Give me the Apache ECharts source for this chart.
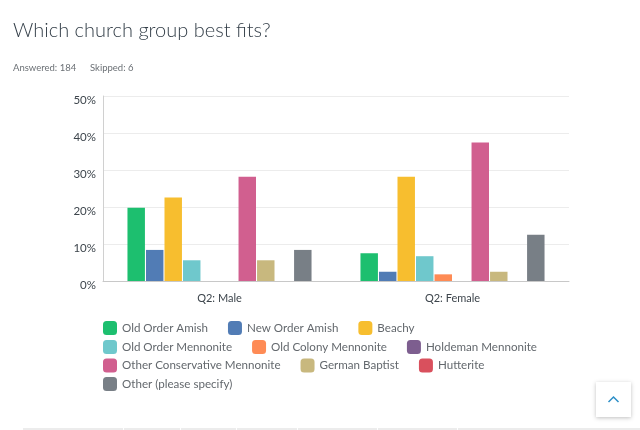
<!DOCTYPE html>
<html lang="en">
<head>
  <meta charset="UTF-8">
  <title>Which church group best fits?</title>
  <script src="https://cdn.jsdelivr.net/npm/echarts@6/dist/echarts.min.js"></script>
  <style>
    html, body { margin: 0; padding: 0; background: #fff; }
    #chart { width: 640px; height: 430px; }
  </style>
</head>
<body>
  <div id="chart"></div>
  <script>
    // categories on the x axis
    const groups = ['Q2: Male', 'Q2: Female'];

    // answer options (series)
    const churches = [
      'Old Order Amish', 'New Order Amish', 'Beachy',
      'Old Order Mennonite', 'Old Colony Mennonite', 'Holdeman Mennonite',
      'Other Conservative Mennonite', 'German Baptist', 'Hutterite',
      'Other (please specify)'
    ];

    // percent per option, [male, female]
    const oldOrderAmish = [19.8, 7.5];
    const newOrderAmish = [8.4, 2.5];
    const beachy = [22.6, 28.2];
    const oldOrderMennonite = [5.6, 6.7];
    const oldColonyMennonite = [0, 1.8];
    const holdemanMennonite = [0, 0];
    const otherConservative = [28.2, 37.4];
    const germanBaptist = [5.6, 2.5];
    const hutterite = [0, 0];
    const otherSpecify = [8.4, 12.5];

    const yTicks = [0, 10, 20, 30, 40, 50];

    const values = [
      oldOrderAmish, newOrderAmish, beachy, oldOrderMennonite, oldColonyMennonite,
      holdemanMennonite, otherConservative, germanBaptist, hutterite, otherSpecify
    ];
    const colors = [
      '#1DBF6F', '#517CB5', '#F7BE2F', '#6FC8CC', '#FE8B55',
      '#7D5E8F', '#D15F8F', '#C8B87E', '#D9505D', '#787F86'
    ];

    // legend wraps like the original: 3, 3, 3, 1
    const legendRows = [churches.slice(0, 3), churches.slice(3, 6), churches.slice(6, 9), churches.slice(9)];
    const legendTops = [321, 340, 358.5, 377];

    // white seams of the table header peeking in at the bottom
    const seams = [123, 180, 236, 297, 377, 457];

    const font = 'Lato, "Open Sans", sans-serif';

    const chart = echarts.init(document.getElementById('chart'));
    chart.setOption({
      animation: false,
      color: colors,
      title: [
        {
          text: 'Which church group best fits?',
          left: 13, top: 21, padding: 0,
          textStyle: { fontFamily: font, fontSize: 20, fontWeight: 300, color: '#333e48' }
        },
        {
          text: 'Answered: 184',
          left: 13, top: 63, padding: 0,
          textStyle: { fontFamily: font, fontSize: 9.5, fontWeight: 'normal', color: '#6b7075' }
        },
        {
          text: 'Skipped: 6',
          left: 90, top: 63, padding: 0,
          textStyle: { fontFamily: font, fontSize: 9.5, fontWeight: 'normal', color: '#6b7075' }
        }
      ],
      legend: legendRows.map((row, i) => ({
        data: row,
        left: 103,
        top: legendTops[i],
        padding: 0,
        itemWidth: 14,
        itemHeight: 14,
        itemGap: 20,
        icon: 'roundRect',
        selectedMode: false,
        textStyle: { fontFamily: font, fontSize: 11.6, color: '#63686d' }
      })),
      grid: { left: 103, right: 71, top: 96, bottom: 149 },
      xAxis: {
        type: 'category',
        data: groups,
        axisTick: { show: false },
        axisLine: { lineStyle: { color: '#c8c8c8', width: 1 } },
        axisLabel: { margin: 12, fontFamily: font, fontSize: 11, color: '#3d454c' }
      },
      yAxis: {
        type: 'value',
        min: yTicks[0],
        max: yTicks[yTicks.length - 1],
        interval: 10,
        axisLine: { show: true, lineStyle: { color: '#d0d0d0' } },
        axisTick: { show: false },
        splitLine: { lineStyle: { color: '#ececec' } },
        axisLabel: {
          formatter: '{value}%',
          margin: 7,
          verticalAlign: 'top',
          lineHeight: 9,
          fontFamily: font, fontSize: 11.5, color: '#3d454c'
        }
      },
      series: churches.map((name, i) => ({
        name: name,
        type: 'bar',
        data: values[i],
        barCategoryGap: '21%',
        barGap: '6%',
        itemStyle: { color: colors[i] }
      })),
      graphic: [
        // back-to-top button
        {
          type: 'rect',
          shape: { x: 596, y: 382, width: 35, height: 35 },
          style: { fill: '#fff', shadowBlur: 4, shadowOffsetY: 1, shadowColor: 'rgba(0,0,0,0.25)' }
        },
        {
          type: 'polyline',
          shape: { points: [[608.5, 402], [613.5, 397], [618.5, 402]] },
          style: { stroke: '#2d8fc7', lineWidth: 1.5, fill: null }
        },
        // table header edge peeking at the bottom
        {
          type: 'rect',
          shape: { x: 23, y: 428, width: 617, height: 2 },
          style: { fill: '#ececec' }
        }
      ].concat(seams.map(x => ({
        type: 'rect',
        shape: { x: x, y: 428, width: 1, height: 2 },
        style: { fill: '#fff' }
      })))
    });
  </script>
</body>
</html>
